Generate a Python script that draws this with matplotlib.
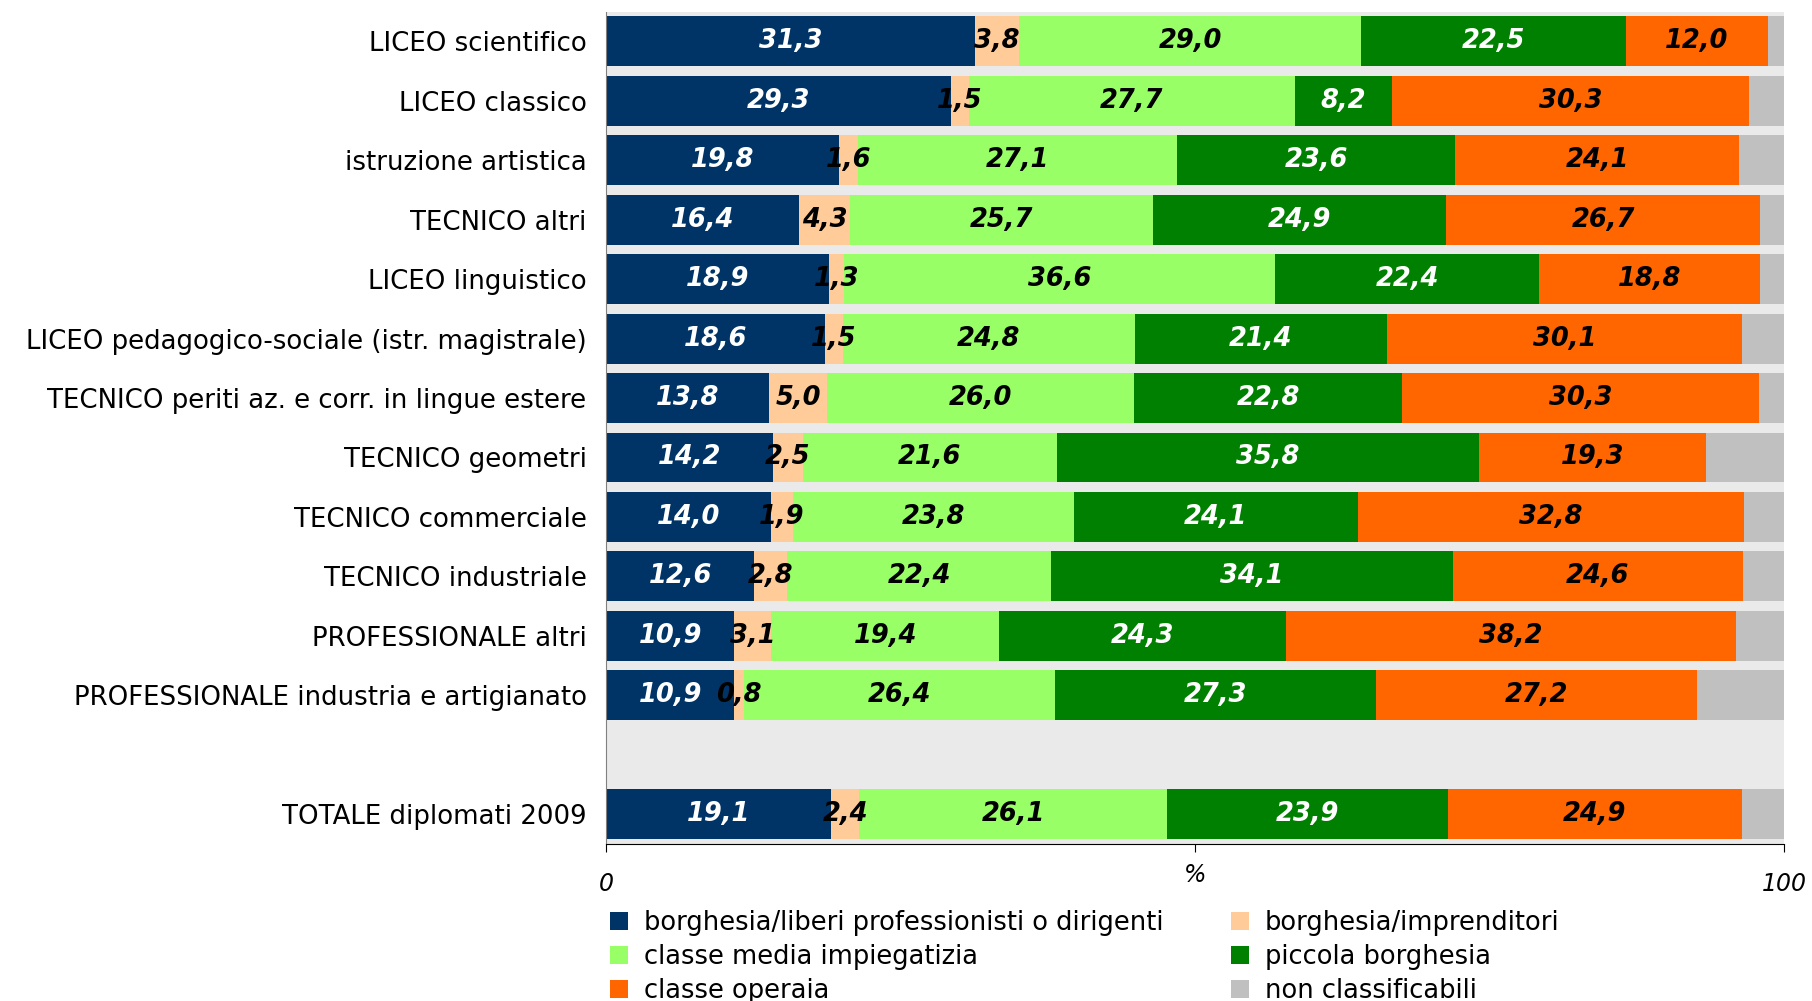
import numpy as np
import matplotlib.pyplot as plt
from matplotlib.patches import Patch

categories = [
    "LICEO scientifico", "LICEO classico", "istruzione artistica", "TECNICO altri",
    "LICEO linguistico", "LICEO pedagogico-sociale (istr. magistrale)",
    "TECNICO periti az. e corr. in lingue estere", "TECNICO geometri",
    "TECNICO commerciale", "TECNICO industriale", "PROFESSIONALE altri",
    "PROFESSIONALE industria e artigianato", "TOTALE diplomati 2009",
]
ypos = [0, 1, 2, 3, 4, 5, 6, 7, 8, 9, 10, 11, 13]

series_names = [
    "borghesia/liberi professionisti o dirigenti", "borghesia/imprenditori",
    "classe media impiegatizia", "piccola borghesia", "classe operaia",
    "non classificabili",
]
liberi = [31.3, 29.3, 19.8, 16.4, 18.9, 18.6, 13.8, 14.2, 14.0, 12.6, 10.9, 10.9, 19.1]
imprenditori = [3.8, 1.5, 1.6, 4.3, 1.3, 1.5, 5.0, 2.5, 1.9, 2.8, 3.1, 0.8, 2.4]
media = [29.0, 27.7, 27.1, 25.7, 36.6, 24.8, 26.0, 21.6, 23.8, 22.4, 19.4, 26.4, 26.1]
piccola = [22.5, 8.2, 23.6, 24.9, 22.4, 21.4, 22.8, 35.8, 24.1, 34.1, 24.3, 27.3, 23.9]
operaia = [12.0, 30.3, 24.1, 26.7, 18.8, 30.1, 30.3, 19.3, 32.8, 24.6, 38.2, 27.2, 24.9]
non_class = [1.4, 3.0, 3.8, 2.0, 2.0, 3.6, 2.1, 6.6, 3.4, 3.5, 4.1, 7.4, 3.6]

colors = ["#003366", "#FFCC99", "#99FF66", "#008000", "#FF6600", "#C0C0C0"]
text_colors = ["white", "black", "black", "white", "black", None]

fig = plt.figure(figsize=(18.12, 10.01), dpi=100)
ax = fig.add_axes([606 / 1812, 1 - 844 / 1001, (1784 - 606) / 1812, (844 - 11.5) / 1001])
ax.set_facecolor("#EAEAEA")

left = np.zeros(len(categories))
for vals, col, tcol in zip([liberi, imprenditori, media, piccola, operaia, non_class],
                           colors, text_colors):
    vals = np.array(vals)
    ax.barh(ypos, vals, left=left, height=0.84, color=col, edgecolor="none")
    if tcol is not None:
        for y, l, v in zip(ypos, left, vals):
            ax.text(l + v / 2, y, f"{v:.1f}".replace(".", ","), ha="center", va="center",
                    color=tcol, fontsize=18.5, fontweight="bold", fontstyle="italic")
    left += vals

ax.set_xlim(0, 100)
ax.set_ylim(13.5, -0.5)
ax.set_yticks(ypos)
ax.set_yticklabels(categories, fontsize=18.7)
ax.tick_params(axis="y", length=0, pad=14)
ax.set_xticks([0, 50, 100])
ax.set_xticklabels(["0", "", "100"], fontsize=17, fontstyle="italic")
ax.tick_params(axis="x", length=6, pad=14)
ax.text(50, -0.037, "%", transform=ax.get_xaxis_transform(), ha="center", va="center",
        fontsize=17, fontstyle="italic")
for s in ["top", "right"]:
    ax.spines[s].set_visible(False)
ax.spines["left"].set_color("#808080")
ax.spines["bottom"].set_color("black")

handles = [Patch(facecolor=c, edgecolor="none") for c in colors]
order = [0, 2, 4, 1, 3, 5]
fig.legend([handles[i] for i in order], [series_names[i] for i in order],
           ncol=2, loc="upper left", bbox_to_anchor=(600 / 1812, 1 - 900 / 1001),
           frameon=False, handlelength=0.7, handleheight=0.7, handletextpad=0.6,
           columnspacing=2.65, labelspacing=0.3, borderaxespad=0,
           prop={"family": "DejaVu Sans", "size": 18.5})

fig.savefig("out.png", dpi=100)
